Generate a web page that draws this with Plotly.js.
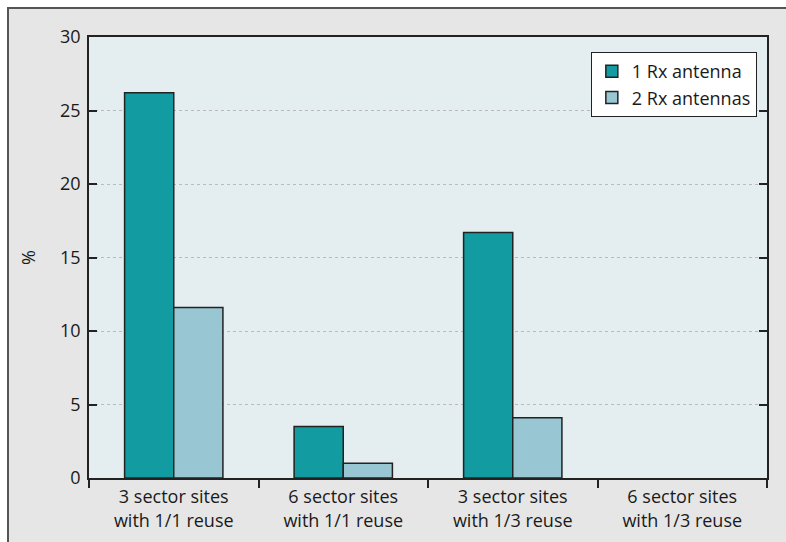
<!DOCTYPE html>
<html><head><meta charset="utf-8">
<script src="https://cdn.plot.ly/plotly-3.0.1.min.js"></script>
<style>
html,body{margin:0;padding:0;background:#fff;}
#frame{position:absolute;left:7px;top:7px;width:777px;height:533px;border-left:2px solid #555;border-top:2px solid #555;background:#e6e6e6;}
#chart{width:777px;height:533px;}
</style></head>
<body>
<div id="frame"><div id="chart"></div></div>
<script>
const categories = ["3 sector sites<br>with 1/1 reuse", "6 sector sites<br>with 1/1 reuse", "3 sector sites<br>with 1/3 reuse", "6 sector sites<br>with 1/3 reuse"];
const oneRx = [26.2, 3.5, 16.7, 0];
const twoRx = [11.6, 1.0, 4.1, 0];
const seriesNames = ["1 Rx antenna", "2 Rx antennas"];
const yTicks = [0, 5, 10, 15, 20, 25, 30];

const fam = "Open Sans, sans-serif";
const fnt = {family: fam, size: 18, color: "#1a1a1a"};
function outlineWidths(vals) { return vals.map(v => v > 0 ? 1.5 : 0); }
const traces = [
  {type: "bar", name: seriesNames[0], x: categories, y: oneRx,
   marker: {color: "#129ba0", line: {color: "#222", width: outlineWidths(oneRx)}}},
  {type: "bar", name: seriesNames[1], x: categories, y: twoRx,
   marker: {color: "#98c6d2", line: {color: "#222", width: outlineWidths(twoRx)}}}
];
const layout = {
  width: 777, height: 533,
  margin: {l: 80, t: 28, r: 19, b: 64},
  paper_bgcolor: "#e6e6e6", plot_bgcolor: "#e4edf0",
  font: fnt,
  barmode: "group", bargap: 0.42, bargroupgap: 0,
  showlegend: true,
  legend: {x: 0.985, y: 0.966, xanchor: "right", yanchor: "top",
    bgcolor: "#fff", bordercolor: "#222", borderwidth: 1,
    font: fnt, itemwidth: 30, tracegroupgap: 0},
  xaxis: {type: "category", showline: true, linecolor: "#222", linewidth: 1.5, mirror: true,
    ticks: "outside", ticklen: 8, tickcolor: "#222", tickwidth: 1.5, tickson: "boundaries",
    ticklabelstandoff: 2,
    showgrid: false, tickfont: fnt},
  yaxis: {range: [0, 30], tickvals: yTicks, showline: true, linecolor: "#222", linewidth: 1.5, mirror: "ticks",
    ticks: "inside", ticklen: 8, tickcolor: "#222", tickwidth: 1.5,
    showgrid: true, gridcolor: "#bbbbbb", griddash: "3px,3px", gridwidth: 1,
    zeroline: false, ticklabelstandoff: 3,
    tickfont: fnt,
    title: {text: "%", font: fnt, standoff: 20}}
};
Plotly.newPlot("chart", traces, layout, {displayModeBar: false});
</script>
</body></html>
